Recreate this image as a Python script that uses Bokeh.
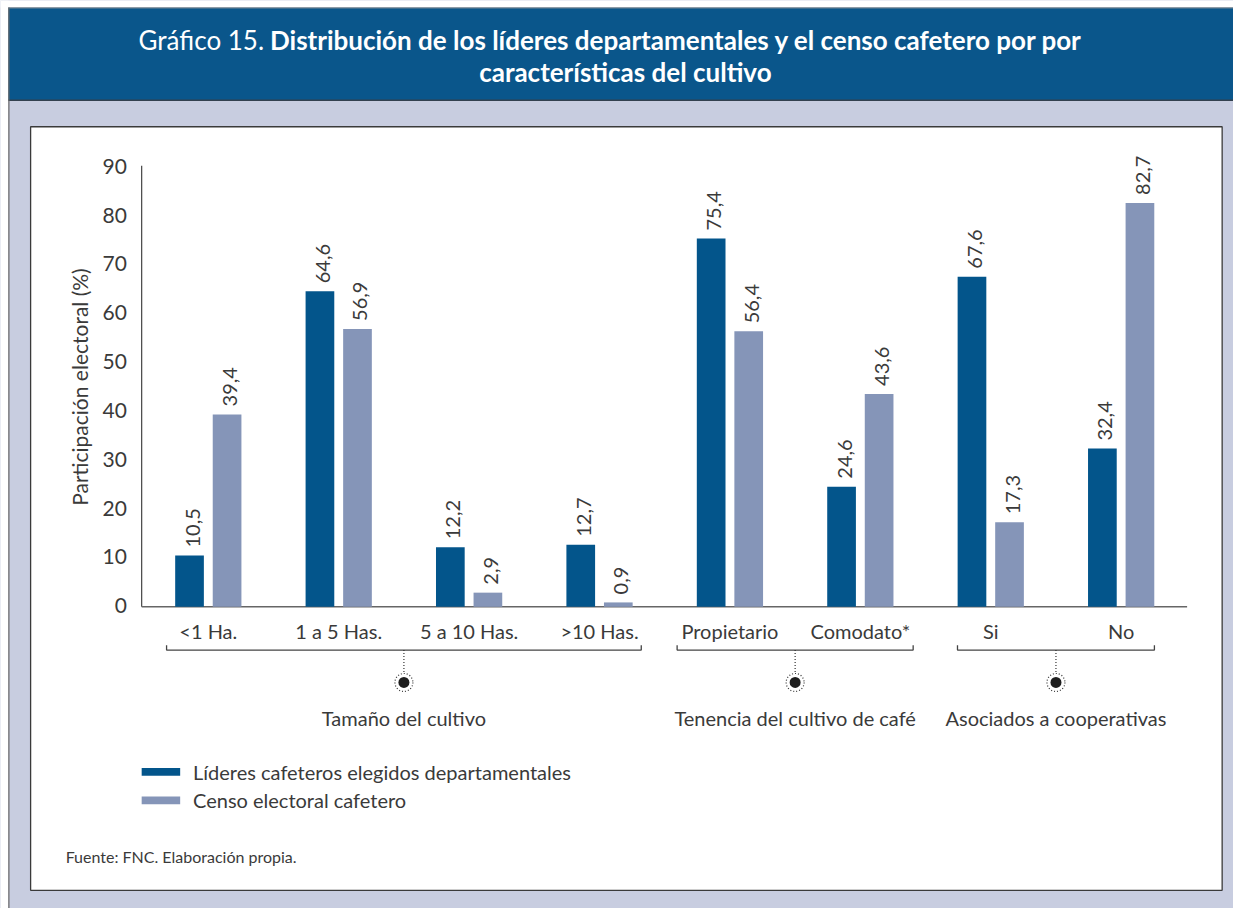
import math
from bokeh.plotting import figure
from bokeh.models import Range1d
from bokeh.core.properties import value
from bokeh.embed import file_html
from bokeh.resources import INLINE

# ---------------- data ----------------
categories = ["<1 Ha.", "1 a 5 Has.", "5 a 10 Has.", ">10 Has.",
              "Propietario", "Comodato*", "Si", "No"]
lideres = [10.5, 64.6, 12.2, 12.7, 75.4, 24.6, 67.6, 32.4]
censo = [39.4, 56.9, 2.9, 0.9, 56.4, 43.6, 17.3, 82.7]
series_names = ["Líderes cafeteros elegidos departamentales", "Censo electoral cafetero"]
groups = ["Tamaño del cultivo", "Tenencia del cultivo de café", "Asociados a cooperativas"]
group_first = [0, 4, 6]
group_last = [3, 5, 7]
y_ticks = [0, 10, 20, 30, 40, 50, 60, 70, 80, 90]
y_label = "Participación electoral (%)"
title_lead = "Gráfico 15."
title_bold1 = "Distribución de los líderes departamentales y el censo cafetero por por"
title_bold2 = "características del cultivo"
source_note = "Fuente: FNC. Elaboración propia."

# ---------------- style / layout ----------------
W, H = 1233, 908                  # canvas size (fits the window with the 8px page margin)
RW, RH = 1249, 924                # design space (reference pixel grid)
FONT = value("Lato")
TXT = "#3a3a3a"
DARK = "#03558b"
LIGHT = "#8595b8"
BANNER = "#0a568b"
LAV = "#c8cde0"

CAT0_PX, CAT_STEP = 210.5, 132.1  # position of first category, spacing
ZERO_PX, PPU = 617.0, 4.97        # position of value 0, units -> pixels
OFF, BW = 0.144, 0.22             # bar offset and width (category units)


def cu(px):
    return (px - CAT0_PX) / CAT_STEP


p = figure(width=W, height=H,
           x_range=Range1d(0, RW), y_range=Range1d(RH, 0),
           x_axis_type=None, y_axis_type=None, toolbar_location=None, tools="",
           output_backend="svg", min_border=0,
           background_fill_color=LAV, border_fill_color="white",
           outline_line_color=None)
p.extra_x_ranges = {"cat": Range1d(cu(0), cu(RW))}
p.extra_y_ranges = {"val": Range1d((ZERO_PX - RH) / PPU, ZERO_PX / PPU)}
CV = dict(x_range_name="cat", y_range_name="val")

# ---------------- frame decorations ----------------
p.quad(left=[0], right=[RW], top=[0], bottom=[7], fill_color="white", line_color=None)
p.quad(left=[0], right=[8], top=[0], bottom=[RH], fill_color="white", line_color=None)
p.quad(left=[8], right=[RW], top=[7], bottom=[101.5], fill_color=BANNER, line_color=None)
p.segment(x0=[8], y0=[7.5], x1=[RW], y1=[7.5], line_color="#9a9a9a", line_width=1)
p.segment(x0=[8], y0=[101.5], x1=[RW], y1=[101.5], line_color="#33414f", line_width=1.5)
p.segment(x0=[8.5], y0=[7], x1=[8.5], y1=[RH], line_color="#666666", line_width=1.2)
p.quad(left=[30.5], right=[1237.5], top=[128.5], bottom=[905.5],
       fill_color="white", line_color="#3a3a3a", line_width=1.3)

# title
p.text(x=[267], y=[40], text=[title_lead], text_font=FONT, text_font_size="26px",
       text_color="white", text_align="right", text_baseline="middle")
p.text(x=[273], y=[40], text=[title_bold1], text_font=FONT, text_font_size="26px",
       text_font_style="bold", text_color="white", text_align="left", text_baseline="middle")
p.text(x=[633], y=[73], text=[title_bold2], text_font=FONT, text_font_size="26px",
       text_font_style="bold", text_color="white", text_align="center", text_baseline="middle")

# ---------------- axes ----------------
AX_L, AX_R = cu(143), cu(1202)
p.segment(x0=[AX_L], y0=[0], x1=[AX_L], y1=[y_ticks[-1] + 0.3], line_color="#444444",
          line_width=1.2, **CV)
p.segment(x0=[AX_L], y0=[0], x1=[AX_R], y1=[0], line_color="#666666", line_width=1.4, **CV)
p.text(x=[cu(128)] * len(y_ticks), y=y_ticks, text=[str(t) for t in y_ticks],
       text_font=FONT, text_font_size="21px", text_color=TXT, y_offset=-1,
       text_align="right", text_baseline="middle", **CV)
p.text(x=[cu(80)], y=[45], text=[y_label], angle=math.pi / 2, text_font=FONT,
       text_font_size="21px", text_color=TXT, text_align="center", text_baseline="middle", **CV)

# ---------------- bars ----------------
xs = list(range(len(categories)))
x_dark = [i - OFF for i in xs]
x_light = [i + OFF for i in xs]
p.vbar(x=x_dark, top=lideres, bottom=0, width=BW, fill_color=DARK, line_color=None, **CV)
p.vbar(x=x_light, top=censo, bottom=0, width=BW, fill_color=LIGHT, line_color=None, **CV)


def fmt(v):
    return f"{v:.1f}".replace(".", ",")


for xx, vals in ((x_dark, lideres), (x_light, censo)):
    p.text(x=xx, y=vals, text=[fmt(v) for v in vals], angle=math.pi / 2,
           x_offset=3, y_offset=-8, text_font=FONT, text_font_size="20px", text_color=TXT,
           text_align="left", text_baseline="middle", **CV)

# category labels
p.text(x=xs, y=[642] * len(xs), text=categories, text_font=FONT, text_font_size="20px",
       text_color=TXT, text_align="center", text_baseline="middle", x_range_name="cat")

# ---------------- group brackets ----------------
BRACKET_HALF = [1.82, 0.905, 0.755]
BR_Y, BR_TICK, DOT_Y, GRP_Y = 661, 656, 694, 730
centers = [(a + b) / 2 for a, b in zip(group_first, group_last)]
p.multi_line(xs=[[c - h, c - h, c + h, c + h] for c, h in zip(centers, BRACKET_HALF)],
             ys=[[BR_TICK, BR_Y, BR_Y, BR_TICK] for _ in centers],
             line_color="#444444", line_width=1.3, x_range_name="cat")
p.segment(x0=centers, y0=[BR_Y] * 3, x1=centers, y1=[DOT_Y - 9] * 3, line_color="#333333",
          line_width=1.2, line_dash="1 2", x_range_name="cat")
p.scatter(x=centers, y=[DOT_Y] * 3, size=18, marker="circle", fill_color=None,
          line_color="#333333", line_width=1.2, line_dash="1 2", x_range_name="cat")
p.scatter(x=centers, y=[DOT_Y] * 3, size=11, marker="circle", fill_color="#1e1e1e",
          line_color=None, x_range_name="cat")
p.text(x=centers, y=[GRP_Y] * 3, text=groups, text_font=FONT, text_font_size="20px",
       text_color=TXT, text_align="center", text_baseline="middle", x_range_name="cat")

# ---------------- legend ----------------
LEG_Y = [785, 814]
p.quad(left=[143, 143], right=[182, 182], top=[y - 4 for y in LEG_Y],
       bottom=[y + 4 for y in LEG_Y], fill_color=[DARK, LIGHT], line_color=None)
p.text(x=[195, 195], y=LEG_Y, text=series_names, text_font=FONT, text_font_size="20px",
       text_color=TXT, text_align="left", text_baseline="middle")

# source
p.text(x=[66], y=[871], text=[source_note], text_font=FONT, text_font_size="16px",
       text_color=TXT, text_align="left", text_baseline="middle")

open("out.html", "w").write(file_html(p, INLINE))
